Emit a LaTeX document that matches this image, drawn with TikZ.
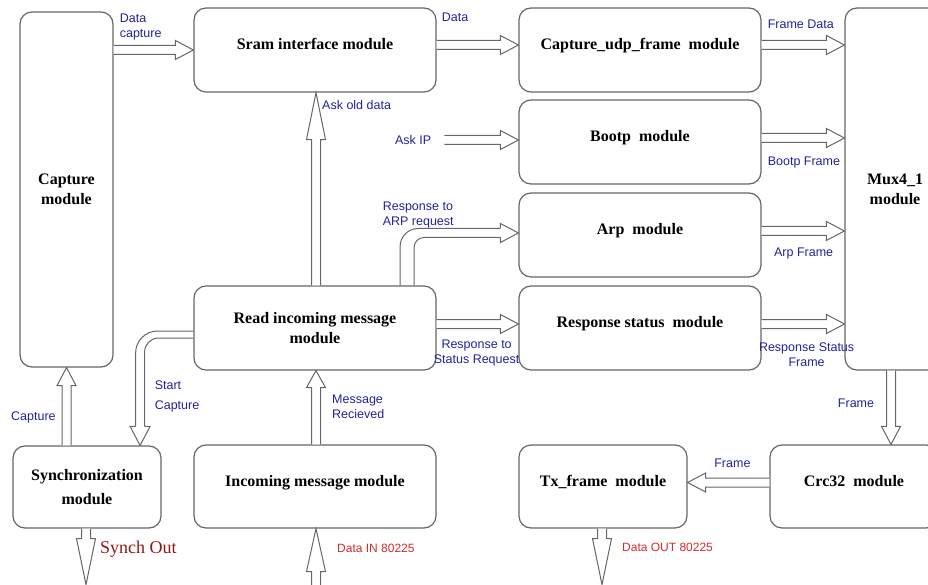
\documentclass[tikz,border=0pt]{standalone}
\usepackage{fontspec}
\setmainfont{Liberation Serif}
\setsansfont{Liberation Sans}
\usetikzlibrary{positioning,calc}
\definecolor{BoxGray}{HTML}{666666}
\definecolor{LblBlue}{HTML}{22229C}
\definecolor{LblRed}{HTML}{D42A2A}
\definecolor{LblDarkRed}{HTML}{8E1818}
\def\tiplen{18pt}\def\tiphw{9.5pt}\def\shafthw{4.5pt}
\tikzset{
  modbox/.style={draw=BoxGray,line width=1.2pt,rounded corners=12pt,align=center,fill=white,font=\fontsize{16}{20}\selectfont\bfseries,inner sep=2pt},
  onerow/.style={text height=11pt,text depth=12pt},
  sig/.style={font=\sffamily\fontsize{12.5}{15}\selectfont,text=LblBlue,inner sep=1pt,align=left,yshift=-2.5pt},
  iosig/.style={font=\sffamily\fontsize{12}{14}\selectfont,text=LblRed,inner sep=1pt},
  pipe/.style={draw=BoxGray,line width=1pt},
  tiplen/.code={\def\tiplen{#1}},
  hollow/.style={pipe,fill=white,line join=miter,
    to path={let \p1=(\tikztostart), \p2=(\tikztotarget),
      \n1={atan2(\y2-\y1,\x2-\x1)}, \n2={\n1+90}, \n3={\n1-90}, \n4={\n1+180} in
      ($(\p1)+(\n2:\shafthw)$) -- ($(\p2)+(\n4:\tiplen)+(\n2:\shafthw)$)
      -- ($(\p2)+(\n4:\tiplen)+(\n2:\tiphw)$) -- (\p2)
      -- ($(\p2)+(\n4:\tiplen)+(\n3:\tiphw)$)
      -- ($(\p2)+(\n4:\tiplen)+(\n3:\shafthw)$) -- ($(\p1)+(\n3:\shafthw)$)}}
}

\begin{document}
\begin{tikzpicture}[x=1pt,y=-1pt]
  \useasboundingbox (0,0) rectangle (928,585);
  \clip (0,0) rectangle (928,585);

  % module boxes
  \node[modbox,minimum width=93pt,minimum height=355pt] (capture) at (66.5,189.5) {Capture\\module};
  \node[modbox,onerow,minimum width=242pt,minimum height=84pt] (sram) at (315,50) {Sram interface module};
  \node[modbox,onerow,minimum width=242pt,minimum height=84pt,right=81.8pt of sram] (capudp) {Capture\_udp\_frame~ module};
  \node[modbox,onerow,minimum width=242pt,minimum height=84pt,below=6.8pt of capudp] (bootp) {Bootp~ module};
  \node[modbox,onerow,minimum width=242pt,minimum height=84pt,below=7.8pt of bootp] (arp) {Arp~ module};
  \node[modbox,onerow,minimum width=242pt,minimum height=84pt,below=7.8pt of arp] (resp) {Response status~ module};
  \node[modbox,minimum width=242pt,minimum height=84pt,left=81.8pt of resp] (read) {Read incoming message\\module};
  \node[modbox,minimum width=100pt,minimum height=362pt,right=82.8pt of capudp.north east,anchor=north west] (mux) {Mux4\_1\\module};
  \node[modbox,minimum width=148pt,minimum height=82pt] (sync) at (87,487) {Synchronization\\[4pt]module};
  \node[modbox,onerow,minimum width=242pt,minimum height=83pt,below=73.8pt of read] (incoming) {Incoming message module};
  \node[modbox,onerow,minimum width=168pt,minimum height=83pt,below=73.8pt of resp.south west,anchor=north west] (tx) {Tx\_frame~ module};
  \node[modbox,onerow,minimum width=168pt,minimum height=83pt,right=81.8pt of tx] (crc) {Crc32~ module};

  % free ends
  \coordinate (askip) at ($(bootp.west)+(-74,-2)$);
  \coordinate (dataout) at ($(tx.south)+(-1,56)$);
  \coordinate (synchout) at ($(sync.south)+(-1,56)$);
  \coordinate (datain) at ($(incoming.south)+(1,58)$);
  \coordinate (arpfoot) at ($(read.north east)+(-29.5,0)$);
  \coordinate (arptip) at ($(arp.west)+(0,-2)$);
  \coordinate (sctip) at ($(sync.north east)+(-21.5,0)$);

  % straight connectors
  \draw[hollow] (capture.east |- sram.west) to (sram.west);
  \draw[hollow] ($(sram.east)+(0,-5)$) to ($(capudp.west)+(0,-5)$);
  \draw[hollow] ($(capudp.east)+(0,-5)$) to ($(capudp.east -| mux.west)+(0,-5)$);
  \draw[hollow] (askip) to (askip -| bootp.west);
  \draw[hollow] ($(bootp.east)+(0,-4)$) to ($(bootp.east -| mux.west)+(0,-4)$);
  \draw[hollow] ($(arp.east)+(0,-4)$) to ($(arp.east -| mux.west)+(0,-4)$);
  \draw[hollow] ($(read.east)+(0,-4)$) to ($(resp.west)+(0,-4)$);
  \draw[hollow] ($(resp.east)+(0,-4)$) to ($(resp.east -| mux.west)+(0,-4)$);
  \draw[hollow] ($(mux.south)+(-4,0)$) coordinate (mxout) to (mxout |- crc.north);
  \draw[hollow] ($(crc.west)+(0,-4)$) to ($(tx.east)+(0,-4)$);
  \draw[hollow,tiplen=46pt] ($(tx.south)+(-1,0)$) to (dataout);
  \draw[hollow,tiplen=46pt] ($(sync.south)+(-1,0)$) to (synchout);
  \draw[hollow,tiplen=43pt] (datain) to ($(incoming.south)+(1,0)$);
  \draw[hollow,tiplen=17pt] ($(incoming.north)+(1,0)$) to ($(read.south)+(1,0)$);
  \draw[hollow,tiplen=47pt] ($(read.north)+(1,0)$) to ($(sram.south)+(1,0)$);
  \draw[hollow] (capture.south |- sync.north) to (capture.south);

  % bent connectors
  \draw[pipe,rounded corners=18pt] ($(arpfoot)+(-7,0)$) |- ($(arptip)+(-18,-4.5)$);
  \draw[pipe,rounded corners=10pt] ($(arpfoot)+(7,0)$) |- ($(arptip)+(-18,4.5)$);
  \draw[pipe] ($(arptip)+(-18,-4.5)$) -- ++(0,-5) -- (arptip) -- ++(-18,9.5) -- ++(0,-5);
  \draw[pipe,rounded corners=22pt] ($(read.west)+(0,3)$) -| ($(sctip)+(-4.5,-19)$);
  \draw[pipe,rounded corners=14pt] ($(read.west)+(0,10)$) -| ($(sctip)+(4.5,-19)$);
  \draw[pipe] ($(sctip)+(-4.5,-19)$) -- ++(-5.5,0) -- (sctip) -- ++(10,-19) -- ++(-5.5,0);

  % signal labels
  \node[sig,anchor=west] (lbldcap) at ($(capture.north east)+(5,13)$) {Data\\capture};
  \node[sig,anchor=west] (lbldata) at ($(sram.north east)+(4,7)$) {Data};
  \node[sig,anchor=west] (lblfrdata) at ($(capudp.north east)+(5,14)$) {Frame Data};
  \node[sig,anchor=east] (lblaskip) at ($(askip)+(-12,-2)$) {Ask IP};
  \node[sig,anchor=west] (lblbootp) at ($(bootp.east)+(5,18)$) {Bootp Frame};
  \node[sig,anchor=west] (lblaskold) at ($(sram.south)+(6,10)$) {Ask old data};
  \node[sig,anchor=west] (lblarpreq) at ($(read.north east)+(-55,-73)$) {Response to\\ARP request};
  \node[sig] (lblarpfr) at ($(arp.east)+(42,16)$) {Arp Frame};
  \node[sig,align=center] (lblstatreq) at ($(read.east)+(40,22)$) {Response to\\Status Request};
  \node[sig,align=center] (lblrespfr) at ($(resp.east)+(45,24)$) {Response Status\\Frame};
  \node[sig] (lblframea) at ($(mux.south)+(-39,30)$) {Frame};
  \node[sig] (lblframeb) at ($(crc.west)+(-37,-26)$) {Frame};
  \node[sig,anchor=west] (lblmsg) at ($(incoming.north)+(16,-40)$) {Message\\Recieved};
  \node[sig,anchor=west] (lblstart) at ($(sync.north east)+(-8,-51)$) {Start\\[5pt]Capture};
  \node[sig] (lblcap) at ($(sync.north west)+(21,-30)$) {Capture};
  \node[iosig,anchor=west] (lbldout) at ($(tx.south)+(18,19)$) {Data OUT 80225};
  \node[iosig,anchor=west] (lbldin) at ($(incoming.south)+(21,20)$) {Data IN 80225};
  \node[anchor=west,inner sep=1pt,text=LblDarkRed,font=\fontsize{18}{20}\selectfont] (lblsynch) at ($(sync.south)+(12,21)$) {Synch Out};
\end{tikzpicture}
\end{document}
